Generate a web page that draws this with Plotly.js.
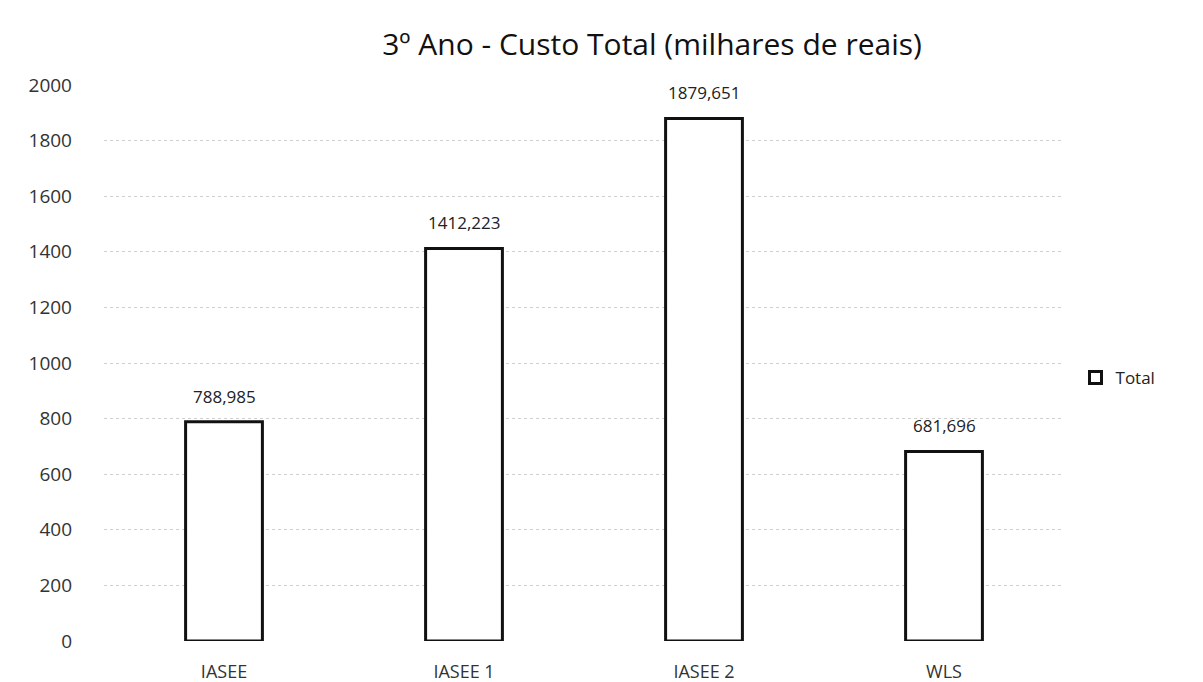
<!DOCTYPE html>
<html>
<head>
<meta charset="utf-8">
<script src="https://cdn.plot.ly/plotly-3.0.1.min.js"></script>
<style>
  body { margin: 0; background: #fff; }
  #chart { width: 1203px; height: 682px; }
</style>
</head>
<body>
<div id="chart"></div>
<script>
// categorias e valores (milhares de reais)
const categorias = ['IASEE', 'IASEE 1', 'IASEE 2', 'WLS'];
const custoTotal = [788.985, 1412.223, 1879.651, 681.696];
const rotulos = ['788,985', '1412,223', '1879,651', '681,696'];
const yTicks = [0, 200, 400, 600, 800, 1000, 1200, 1400, 1600, 1800, 2000];

let data = [{
  x: categorias,
  y: custoTotal,
  type: 'bar',
  name: 'Total',
  width: 0.32,
  marker: {color: '#ffffff', line: {color: '#111111', width: 3}},
  hoverinfo: 'x+y'
}];

// rotulos de dados acima das barras
let annotations = categorias.map((c, i) => ({
  x: c,
  y: custoTotal[i],
  text: rotulos[i],
  showarrow: false,
  yanchor: 'bottom',
  yshift: 12,
  font: {family: 'Open Sans', size: 17, color: '#222'}
}));

let layout = {
  width: 1203,
  height: 682,
  margin: {l: 104, r: 139, t: 85, b: 41},
  paper_bgcolor: '#fff',
  plot_bgcolor: '#fff',
  font: {family: 'Open Sans', color: '#222'},
  title: {
    text: '3º Ano - Custo Total (milhares de reais)',
    font: {family: 'Open Sans', size: 30, color: '#111'},
    xref: 'container', x: 0.542, xanchor: 'center',
    yref: 'container', y: 0.935, yanchor: 'middle'
  },
  xaxis: {
    showline: false,
    ticks: '',
    ticklabelstandoff: 18,
    tickfont: {size: 18, color: '#333'}
  },
  yaxis: {
    range: [0, 2000],
    tickvals: yTicks,
    ticktext: yTicks.map(String),
    showgrid: true,
    gridcolor: '#cfcfcf',
    griddash: 'dot',
    zeroline: false,
    ticks: '',
    ticklabelstandoff: 31,
    tickfont: {size: 19, color: '#333'}
  },
  annotations: annotations,
  showlegend: true,
  legend: {
    x: 1.012, xanchor: 'left', y: 0.473, yanchor: 'middle',
    font: {size: 17, color: '#222'},
    itemwidth: 30
  }
};

Plotly.newPlot('chart', data, layout, {displayModeBar: false});
</script>
</body>
</html>
